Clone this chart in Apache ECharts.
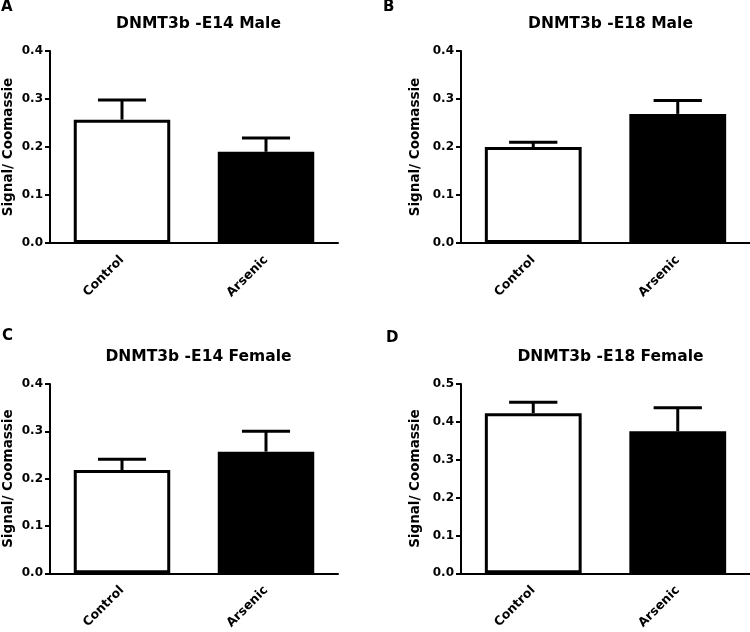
<!DOCTYPE html>
<html>
<head>
<meta charset="utf-8">
<script src="https://cdn.jsdelivr.net/npm/echarts@6/dist/echarts.min.js"></script>
<style>
  html, body { margin: 0; padding: 0; background: #fff; }
  #chart { width: 750px; height: 632px; }
</style>
</head>
<body>
<div id="chart"></div>
<script>
// ---- data ----
const categories = ['Control', 'Arsenic'];
const panelTitles = ['DNMT3b -E14 Male', 'DNMT3b -E18 Male', 'DNMT3b -E14 Female', 'DNMT3b -E18 Female'];
const panelLetters = ['A', 'B', 'C', 'D'];
const yAxisName = 'Signal/ Coomassie';

const e14MaleMean = [0.257, 0.190];
const e14MaleSem = [0.041, 0.029];
const e18MaleMean = [0.200, 0.269];
const e18MaleSem = [0.010, 0.028];
const e14FemaleMean = [0.218, 0.257];
const e14FemaleSem = [0.023, 0.043];
const e18FemaleMean = [0.423, 0.375];
const e18FemaleSem = [0.029, 0.062];

const yMaxes = [0.4, 0.4, 0.4, 0.5];
const yInterval = 0.1;

// ---- layout ----
const means = [e14MaleMean, e18MaleMean, e14FemaleMean, e18FemaleMean];
const sems = [e14MaleSem, e18MaleSem, e14FemaleSem, e18FemaleSem];
const grids = [
  { left: 49, top: 51, width: 289, height: 192 },
  { left: 461, top: 51, width: 289, height: 192 },
  { left: 49, top: 384, width: 289, height: 191 },
  { left: 461, top: 384, width: 289, height: 191 }
];
const titleTops = [11, 11, 344, 344];
const letterPos = [[1, 0], [383, 0], [2, 329], [386, 331]];
const barColors = ['#ffffff', '#000000'];
const FONT = 'DejaVu Sans';

const option = {
  backgroundColor: '#ffffff',
  animation: false,
  title: panelTitles.map((t, i) => ({
    text: t,
    left: grids[i].left + grids[i].width / 2,
    top: titleTops[i],
    textAlign: 'center',
    textStyle: { fontFamily: FONT, fontWeight: 'bold', fontSize: 15.5, color: '#000' }
  })),
  graphic: panelLetters.map((l, i) => ({
    type: 'text',
    left: letterPos[i][0],
    top: letterPos[i][1],
    style: { text: l, font: 'bold 15px "DejaVu Sans"', fill: '#000' }
  })),
  grid: grids.map(g => Object.assign({ containLabel: false }, g)),
  xAxis: grids.map((g, i) => ({
    type: 'category',
    gridIndex: i,
    data: categories,
    axisLine: { lineStyle: { color: '#000', width: 2 } },
    axisTick: { alignWithLabel: true, length: 5, lineStyle: { color: '#000', width: 2 } },
    axisLabel: {
      rotate: 45, interval: 0, margin: 15,
      fontFamily: FONT, fontWeight: 'bold', fontSize: 12.5, color: '#000'
    },
    splitLine: { show: false }
  })),
  yAxis: grids.map((g, i) => ({
    type: 'value',
    gridIndex: i,
    min: 0,
    max: yMaxes[i],
    interval: yInterval,
    name: yAxisName,
    nameLocation: 'middle',
    nameRotate: 90,
    nameGap: i % 2 === 0 ? 35 : 39,
    nameTextStyle: { fontFamily: FONT, fontWeight: 'bold', fontSize: 13.5, color: '#000' },
    axisLine: { show: true, lineStyle: { color: '#000', width: 2 } },
    axisTick: { show: true, length: 5, lineStyle: { color: '#000', width: 2 } },
    axisLabel: {
      margin: 7,
      fontFamily: FONT, fontWeight: 'bold', fontSize: 12, color: '#000',
      formatter: v => v.toFixed(1)
    },
    splitLine: { show: false }
  })),
  series: []
};

means.forEach((m, i) => {
  option.series.push({
    type: 'bar',
    xAxisIndex: i,
    yAxisIndex: i,
    barWidth: '67%',
    data: m.map((v, j) => ({
      value: v,
      itemStyle: { color: barColors[j], borderColor: '#000', borderWidth: 3 }
    })),
    z: 2
  });
  option.series.push({
    type: 'custom',
    xAxisIndex: i,
    yAxisIndex: i,
    z: 3,
    encode: { x: 0, y: [1, 2] },
    data: m.map((v, j) => [j, v, v + sems[i][j]]),
    renderItem: (params, api) => {
      const x = api.value(0);
      const p0 = api.coord([x, api.value(1)]);
      const p1 = api.coord([x, api.value(2)]);
      const half = api.size([1, 0])[0] * 0.167;
      const st = { stroke: '#000', lineWidth: 3 };
      return {
        type: 'group',
        children: [
          { type: 'line', shape: { x1: p0[0], y1: p0[1], x2: p1[0], y2: p1[1] }, style: st },
          { type: 'line', shape: { x1: p0[0] - half, y1: p1[1], x2: p0[0] + half, y2: p1[1] }, style: st }
        ]
      };
    }
  });
});

const chart = echarts.init(document.getElementById('chart'), null, { renderer: 'canvas' });
chart.setOption(option);
</script>
</body>
</html>
